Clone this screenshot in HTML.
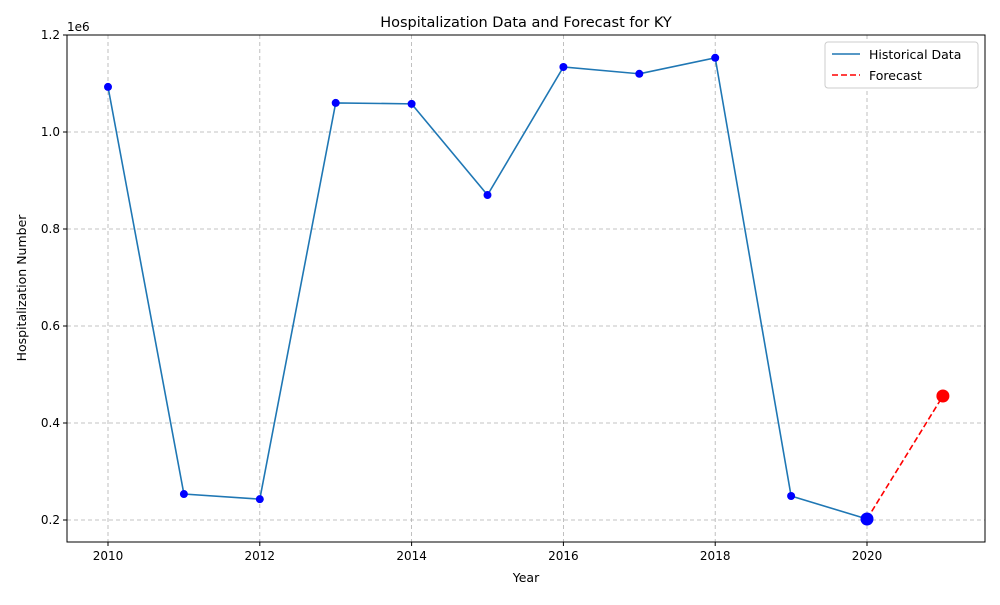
<!DOCTYPE html>
<html><head><meta charset="utf-8"><style>
body{margin:0;background:#fff;font-family:"Liberation Sans","DejaVu Sans",sans-serif;}
svg text{font-family:"DejaVu Sans","Liberation Sans",sans-serif;}
</style></head><body>
<svg id="c" width="1000" height="600" xmlns="http://www.w3.org/2000/svg"></svg>
<script>
const years=[2010,2011,2012,2013,2014,2015,2016,2017,2018,2019,2020];
const values=[1093000,253500,243000,1060000,1058000,870000,1134000,1120000,1153000,249500,202000];
const forecastYears=[2020,2021];
const forecastValues=[202000,455700];
const xTicks=[2010,2012,2014,2016,2018,2020];
const yTicks=[200000,400000,600000,800000,1000000,1200000];
const yTickLabels=["0.2","0.4","0.6","0.8","1.0","1.2"];

const L=67,R=985,T=35,B=542;
const x=v=>108+(v-2010)*(867-108)/10;
const y=v=>520-(v-200000)*(485/1000000);
const svg=document.getElementById('c');
const NS='http://www.w3.org/2000/svg';
function mk(tag,attrs,name,parent){const e=document.createElementNS(NS,tag);for(const k in attrs)e.setAttribute(k,attrs[k]);


(parent||svg).appendChild(e);return e;}
// grid
xTicks.forEach(t=>{mk('line',{x1:x(t),x2:x(t),y1:T,y2:B,stroke:'#b0b0b0','stroke-width':0.8,'stroke-dasharray':'4,3'},'x-grid-line');});
yTicks.forEach(t=>{mk('line',{x1:L,x2:R,y1:y(t),y2:y(t),stroke:'#b0b0b0','stroke-width':0.8,'stroke-dasharray':'4,3'},'y-grid-line');});
// ticks
xTicks.forEach(t=>{mk('line',{x1:x(t),x2:x(t),y1:B,y2:B+4,stroke:'#000'},'x-tick');
const tx=mk('text',{x:x(t),y:B+18,'text-anchor':'middle','font-size':12},'x-tick-label');tx.textContent=t;});
yTicks.forEach((t,i)=>{mk('line',{x1:L-4,x2:L,y1:y(t),y2:y(t),stroke:'#000'},'y-tick');
const tx=mk('text',{x:L-7,y:y(t)+4,'text-anchor':'end','font-size':12},'y-tick-label');tx.textContent=yTickLabels[i];});
// series
mk('polyline',{points:years.map((v,i)=>x(v)+','+y(values[i])).join(' '),fill:'none',stroke:'#1f77b4','stroke-width':1.6},'historical-line');
years.forEach((v,i)=>{mk('circle',{cx:x(v),cy:y(values[i]),r:4,fill:'#0000ff'},'historical-point');});
mk('polyline',{points:forecastYears.map((v,i)=>x(v)+','+y(forecastValues[i])).join(' '),fill:'none',stroke:'#ff0000','stroke-width':1.6,'stroke-dasharray':'6,3'},'forecast-line');
mk('circle',{cx:x(years[years.length-1]),cy:y(values[values.length-1]),r:6.5,fill:'#0000ff'},'last-historical-point');
mk('circle',{cx:x(forecastYears[1]),cy:y(forecastValues[1]),r:6.5,fill:'#ff0000'},'forecast-point');
// frame
mk('rect',{x:L,y:T,width:R-L,height:B-T,fill:'none',stroke:'#000','stroke-width':1},'plot-frame');
// texts
let t=mk('text',{x:526,y:27,'text-anchor':'middle','font-size':14.5},'chart-title');t.textContent='Hospitalization Data and Forecast for KY';
t=mk('text',{x:526,y:582,'text-anchor':'middle','font-size':12.5},'x-axis-title');t.textContent='Year';
t=mk('text',{x:26,y:288,'text-anchor':'middle','font-size':12.5,transform:'rotate(-90 26 288)'},'y-axis-title');t.textContent='Hospitalization Number';
t=mk('text',{x:67,y:31,'font-size':12},'y-offset-label');t.textContent='1e6';
// legend
const g=mk('g',{},'legend');
mk('rect',{x:825,y:42,width:153,height:46,fill:'#fff',stroke:'#ccc',rx:3},'legend-box',g);
mk('line',{x1:832,x2:860,y1:54,y2:54,stroke:'#1f77b4','stroke-width':1.6},'legend-historical-swatch',g);
t=mk('text',{x:869,y:59,'font-size':12.5},'legend-historical-label',g);t.textContent='Historical Data';
mk('line',{x1:832,x2:860,y1:75,y2:75,stroke:'#ff0000','stroke-width':1.6,'stroke-dasharray':'6,3'},'legend-forecast-swatch',g);
t=mk('text',{x:869,y:80,'font-size':12.5},'legend-forecast-label',g);t.textContent='Forecast';
</script>
</body></html>
